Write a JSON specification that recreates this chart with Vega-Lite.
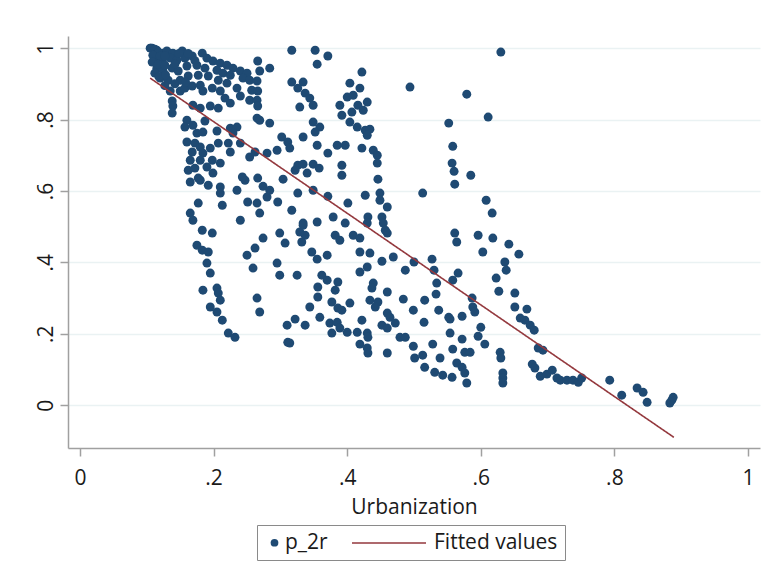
{
  "$schema": "https://vega.github.io/schema/vega-lite/v6.json",
  "width": 692,
  "height": 412,
  "autosize": {"type": "none"},
  "padding": {"left": 68, "top": 36, "right": 4, "bottom": 126},
  "background": "#ffffff",
  "config": {
    "view": {"stroke": null},
    "axis": {
      "domainColor": "#a0a0a0",
      "domainWidth": 1.5,
      "tickColor": "#a0a0a0",
      "tickWidth": 1.5,
      "tickSize": 8,
      "labelFont": "Open Sans",
      "labelFontSize": 21,
      "labelColor": "#1a1a1a",
      "titleFont": "Open Sans",
      "titleFontSize": 21,
      "titleFontWeight": "normal",
      "titleColor": "#1a1a1a"
    }
  },
  "datasets": {
    "obs": [
      {"urbanization": 0.105, "p_2r": 1.0}, {"urbanization": 0.115, "p_2r": 0.994}, {"urbanization": 0.123, "p_2r": 0.986},
      {"urbanization": 0.13, "p_2r": 0.992}, {"urbanization": 0.139, "p_2r": 0.986}, {"urbanization": 0.153, "p_2r": 0.992},
      {"urbanization": 0.112, "p_2r": 0.972}, {"urbanization": 0.123, "p_2r": 0.966}, {"urbanization": 0.135, "p_2r": 0.972},
      {"urbanization": 0.145, "p_2r": 0.966}, {"urbanization": 0.157, "p_2r": 0.972}, {"urbanization": 0.168, "p_2r": 0.978},
      {"urbanization": 0.183, "p_2r": 0.986}, {"urbanization": 0.19, "p_2r": 0.972}, {"urbanization": 0.199, "p_2r": 0.964},
      {"urbanization": 0.21, "p_2r": 0.958}, {"urbanization": 0.22, "p_2r": 0.952}, {"urbanization": 0.229, "p_2r": 0.944},
      {"urbanization": 0.24, "p_2r": 0.936}, {"urbanization": 0.25, "p_2r": 0.93}, {"urbanization": 0.266, "p_2r": 0.964},
      {"urbanization": 0.269, "p_2r": 0.936}, {"urbanization": 0.115, "p_2r": 0.944}, {"urbanization": 0.124, "p_2r": 0.938},
      {"urbanization": 0.138, "p_2r": 0.944}, {"urbanization": 0.147, "p_2r": 0.936}, {"urbanization": 0.16, "p_2r": 0.95},
      {"urbanization": 0.175, "p_2r": 0.952}, {"urbanization": 0.187, "p_2r": 0.944}, {"urbanization": 0.205, "p_2r": 0.938},
      {"urbanization": 0.214, "p_2r": 0.93}, {"urbanization": 0.225, "p_2r": 0.924}, {"urbanization": 0.244, "p_2r": 0.916},
      {"urbanization": 0.254, "p_2r": 0.91}, {"urbanization": 0.265, "p_2r": 0.908}, {"urbanization": 0.12, "p_2r": 0.916},
      {"urbanization": 0.132, "p_2r": 0.91}, {"urbanization": 0.15, "p_2r": 0.91}, {"urbanization": 0.162, "p_2r": 0.922},
      {"urbanization": 0.177, "p_2r": 0.924}, {"urbanization": 0.192, "p_2r": 0.922}, {"urbanization": 0.207, "p_2r": 0.91},
      {"urbanization": 0.22, "p_2r": 0.902}, {"urbanization": 0.235, "p_2r": 0.888}, {"urbanization": 0.257, "p_2r": 0.882},
      {"urbanization": 0.266, "p_2r": 0.88}, {"urbanization": 0.135, "p_2r": 0.88}, {"urbanization": 0.15, "p_2r": 0.88},
      {"urbanization": 0.138, "p_2r": 0.852}, {"urbanization": 0.139, "p_2r": 0.838}, {"urbanization": 0.138, "p_2r": 0.818},
      {"urbanization": 0.157, "p_2r": 0.888}, {"urbanization": 0.168, "p_2r": 0.894}, {"urbanization": 0.18, "p_2r": 0.896},
      {"urbanization": 0.184, "p_2r": 0.88}, {"urbanization": 0.198, "p_2r": 0.888}, {"urbanization": 0.21, "p_2r": 0.88},
      {"urbanization": 0.217, "p_2r": 0.86}, {"urbanization": 0.225, "p_2r": 0.846}, {"urbanization": 0.24, "p_2r": 0.866},
      {"urbanization": 0.254, "p_2r": 0.854}, {"urbanization": 0.265, "p_2r": 0.854}, {"urbanization": 0.266, "p_2r": 0.838},
      {"urbanization": 0.169, "p_2r": 0.84}, {"urbanization": 0.18, "p_2r": 0.832}, {"urbanization": 0.195, "p_2r": 0.838},
      {"urbanization": 0.207, "p_2r": 0.832}, {"urbanization": 0.106, "p_2r": 1.0}, {"urbanization": 0.108, "p_2r": 1.0},
      {"urbanization": 0.112, "p_2r": 0.997}, {"urbanization": 0.117, "p_2r": 0.989}, {"urbanization": 0.109, "p_2r": 0.98},
      {"urbanization": 0.12, "p_2r": 0.978}, {"urbanization": 0.127, "p_2r": 0.978}, {"urbanization": 0.108, "p_2r": 0.961},
      {"urbanization": 0.117, "p_2r": 0.955}, {"urbanization": 0.127, "p_2r": 0.952}, {"urbanization": 0.112, "p_2r": 0.93},
      {"urbanization": 0.118, "p_2r": 0.92}, {"urbanization": 0.128, "p_2r": 0.925}, {"urbanization": 0.142, "p_2r": 0.955},
      {"urbanization": 0.148, "p_2r": 0.985}, {"urbanization": 0.162, "p_2r": 0.985}, {"urbanization": 0.172, "p_2r": 0.965},
      {"urbanization": 0.142, "p_2r": 0.9}, {"urbanization": 0.158, "p_2r": 0.905}, {"urbanization": 0.127, "p_2r": 0.895},
      {"urbanization": 0.16, "p_2r": 0.798}, {"urbanization": 0.169, "p_2r": 0.784}, {"urbanization": 0.157, "p_2r": 0.779},
      {"urbanization": 0.175, "p_2r": 0.762}, {"urbanization": 0.184, "p_2r": 0.765}, {"urbanization": 0.16, "p_2r": 0.737},
      {"urbanization": 0.172, "p_2r": 0.734}, {"urbanization": 0.18, "p_2r": 0.723}, {"urbanization": 0.168, "p_2r": 0.709},
      {"urbanization": 0.184, "p_2r": 0.706}, {"urbanization": 0.195, "p_2r": 0.72}, {"urbanization": 0.207, "p_2r": 0.734},
      {"urbanization": 0.165, "p_2r": 0.686}, {"urbanization": 0.18, "p_2r": 0.686}, {"urbanization": 0.198, "p_2r": 0.686},
      {"urbanization": 0.21, "p_2r": 0.678}, {"urbanization": 0.162, "p_2r": 0.658}, {"urbanization": 0.172, "p_2r": 0.664},
      {"urbanization": 0.19, "p_2r": 0.667}, {"urbanization": 0.199, "p_2r": 0.65}, {"urbanization": 0.165, "p_2r": 0.625},
      {"urbanization": 0.18, "p_2r": 0.63}, {"urbanization": 0.192, "p_2r": 0.616}, {"urbanization": 0.21, "p_2r": 0.611},
      {"urbanization": 0.235, "p_2r": 0.602}, {"urbanization": 0.247, "p_2r": 0.63}, {"urbanization": 0.225, "p_2r": 0.709},
      {"urbanization": 0.254, "p_2r": 0.695}, {"urbanization": 0.225, "p_2r": 0.776}, {"urbanization": 0.235, "p_2r": 0.779},
      {"urbanization": 0.229, "p_2r": 0.762}, {"urbanization": 0.222, "p_2r": 0.734}, {"urbanization": 0.24, "p_2r": 0.734},
      {"urbanization": 0.262, "p_2r": 0.709}, {"urbanization": 0.28, "p_2r": 0.706}, {"urbanization": 0.265, "p_2r": 0.804},
      {"urbanization": 0.269, "p_2r": 0.798}, {"urbanization": 0.187, "p_2r": 0.796}, {"urbanization": 0.205, "p_2r": 0.768},
      {"urbanization": 0.177, "p_2r": 0.566}, {"urbanization": 0.165, "p_2r": 0.538}, {"urbanization": 0.169, "p_2r": 0.518},
      {"urbanization": 0.183, "p_2r": 0.49}, {"urbanization": 0.198, "p_2r": 0.482}, {"urbanization": 0.213, "p_2r": 0.56},
      {"urbanization": 0.24, "p_2r": 0.518}, {"urbanization": 0.265, "p_2r": 0.566}, {"urbanization": 0.269, "p_2r": 0.538},
      {"urbanization": 0.28, "p_2r": 0.583}, {"urbanization": 0.21, "p_2r": 0.594}, {"urbanization": 0.266, "p_2r": 0.636},
      {"urbanization": 0.274, "p_2r": 0.613}, {"urbanization": 0.243, "p_2r": 0.639}, {"urbanization": 0.177, "p_2r": 0.636},
      {"urbanization": 0.251, "p_2r": 0.569}, {"urbanization": 0.175, "p_2r": 0.448}, {"urbanization": 0.183, "p_2r": 0.434},
      {"urbanization": 0.192, "p_2r": 0.429}, {"urbanization": 0.19, "p_2r": 0.398}, {"urbanization": 0.195, "p_2r": 0.37},
      {"urbanization": 0.25, "p_2r": 0.42}, {"urbanization": 0.262, "p_2r": 0.44}, {"urbanization": 0.259, "p_2r": 0.384},
      {"urbanization": 0.184, "p_2r": 0.322}, {"urbanization": 0.205, "p_2r": 0.328}, {"urbanization": 0.207, "p_2r": 0.314},
      {"urbanization": 0.21, "p_2r": 0.294}, {"urbanization": 0.195, "p_2r": 0.275}, {"urbanization": 0.205, "p_2r": 0.261},
      {"urbanization": 0.213, "p_2r": 0.238}, {"urbanization": 0.222, "p_2r": 0.202}, {"urbanization": 0.232, "p_2r": 0.19},
      {"urbanization": 0.265, "p_2r": 0.3}, {"urbanization": 0.269, "p_2r": 0.261},
      {"urbanization": 0.317, "p_2r": 0.994}, {"urbanization": 0.352, "p_2r": 0.994}, {"urbanization": 0.371, "p_2r": 0.978},
      {"urbanization": 0.355, "p_2r": 0.955}, {"urbanization": 0.422, "p_2r": 0.933}, {"urbanization": 0.494, "p_2r": 0.891},
      {"urbanization": 0.284, "p_2r": 0.944}, {"urbanization": 0.317, "p_2r": 0.905}, {"urbanization": 0.334, "p_2r": 0.905},
      {"urbanization": 0.326, "p_2r": 0.888}, {"urbanization": 0.337, "p_2r": 0.874}, {"urbanization": 0.344, "p_2r": 0.86},
      {"urbanization": 0.329, "p_2r": 0.835}, {"urbanization": 0.349, "p_2r": 0.84}, {"urbanization": 0.404, "p_2r": 0.902},
      {"urbanization": 0.419, "p_2r": 0.888}, {"urbanization": 0.4, "p_2r": 0.863}, {"urbanization": 0.409, "p_2r": 0.868},
      {"urbanization": 0.389, "p_2r": 0.84}, {"urbanization": 0.392, "p_2r": 0.812}, {"urbanization": 0.407, "p_2r": 0.821},
      {"urbanization": 0.416, "p_2r": 0.84}, {"urbanization": 0.43, "p_2r": 0.849}, {"urbanization": 0.424, "p_2r": 0.826},
      {"urbanization": 0.404, "p_2r": 0.793}, {"urbanization": 0.415, "p_2r": 0.779}, {"urbanization": 0.427, "p_2r": 0.77},
      {"urbanization": 0.434, "p_2r": 0.773}, {"urbanization": 0.43, "p_2r": 0.756}, {"urbanization": 0.349, "p_2r": 0.793},
      {"urbanization": 0.359, "p_2r": 0.779}, {"urbanization": 0.352, "p_2r": 0.765}, {"urbanization": 0.284, "p_2r": 0.79},
      {"urbanization": 0.302, "p_2r": 0.751}, {"urbanization": 0.311, "p_2r": 0.737}, {"urbanization": 0.314, "p_2r": 0.72},
      {"urbanization": 0.295, "p_2r": 0.714}, {"urbanization": 0.334, "p_2r": 0.751}, {"urbanization": 0.355, "p_2r": 0.728},
      {"urbanization": 0.371, "p_2r": 0.706}, {"urbanization": 0.385, "p_2r": 0.728}, {"urbanization": 0.397, "p_2r": 0.728},
      {"urbanization": 0.422, "p_2r": 0.72}, {"urbanization": 0.439, "p_2r": 0.714}, {"urbanization": 0.445, "p_2r": 0.7},
      {"urbanization": 0.445, "p_2r": 0.678}, {"urbanization": 0.392, "p_2r": 0.672}, {"urbanization": 0.392, "p_2r": 0.644},
      {"urbanization": 0.326, "p_2r": 0.672}, {"urbanization": 0.334, "p_2r": 0.675}, {"urbanization": 0.349, "p_2r": 0.675},
      {"urbanization": 0.358, "p_2r": 0.664}, {"urbanization": 0.322, "p_2r": 0.658}, {"urbanization": 0.34, "p_2r": 0.65},
      {"urbanization": 0.304, "p_2r": 0.633}, {"urbanization": 0.446, "p_2r": 0.633}, {"urbanization": 0.284, "p_2r": 0.602},
      {"urbanization": 0.296, "p_2r": 0.569}, {"urbanization": 0.326, "p_2r": 0.594}, {"urbanization": 0.349, "p_2r": 0.602},
      {"urbanization": 0.371, "p_2r": 0.585}, {"urbanization": 0.401, "p_2r": 0.566}, {"urbanization": 0.427, "p_2r": 0.588},
      {"urbanization": 0.449, "p_2r": 0.594}, {"urbanization": 0.449, "p_2r": 0.574}, {"urbanization": 0.46, "p_2r": 0.555},
      {"urbanization": 0.317, "p_2r": 0.546}, {"urbanization": 0.379, "p_2r": 0.527}, {"urbanization": 0.355, "p_2r": 0.513},
      {"urbanization": 0.334, "p_2r": 0.51}, {"urbanization": 0.397, "p_2r": 0.51}, {"urbanization": 0.431, "p_2r": 0.527},
      {"urbanization": 0.452, "p_2r": 0.527},
      {"urbanization": 0.63, "p_2r": 0.989}, {"urbanization": 0.579, "p_2r": 0.871}, {"urbanization": 0.611, "p_2r": 0.807},
      {"urbanization": 0.552, "p_2r": 0.79}, {"urbanization": 0.558, "p_2r": 0.725}, {"urbanization": 0.557, "p_2r": 0.678},
      {"urbanization": 0.56, "p_2r": 0.655}, {"urbanization": 0.561, "p_2r": 0.619}, {"urbanization": 0.585, "p_2r": 0.644},
      {"urbanization": 0.513, "p_2r": 0.594}, {"urbanization": 0.608, "p_2r": 0.574}, {"urbanization": 0.617, "p_2r": 0.538},
      {"urbanization": 0.274, "p_2r": 0.468}, {"urbanization": 0.299, "p_2r": 0.482}, {"urbanization": 0.307, "p_2r": 0.454},
      {"urbanization": 0.329, "p_2r": 0.485}, {"urbanization": 0.332, "p_2r": 0.457}, {"urbanization": 0.334, "p_2r": 0.504},
      {"urbanization": 0.337, "p_2r": 0.476}, {"urbanization": 0.382, "p_2r": 0.476}, {"urbanization": 0.389, "p_2r": 0.462},
      {"urbanization": 0.409, "p_2r": 0.476}, {"urbanization": 0.419, "p_2r": 0.468}, {"urbanization": 0.43, "p_2r": 0.51},
      {"urbanization": 0.454, "p_2r": 0.51}, {"urbanization": 0.46, "p_2r": 0.482}, {"urbanization": 0.457, "p_2r": 0.49},
      {"urbanization": 0.347, "p_2r": 0.429}, {"urbanization": 0.355, "p_2r": 0.409}, {"urbanization": 0.37, "p_2r": 0.42},
      {"urbanization": 0.419, "p_2r": 0.429}, {"urbanization": 0.434, "p_2r": 0.426}, {"urbanization": 0.43, "p_2r": 0.387},
      {"urbanization": 0.419, "p_2r": 0.373}, {"urbanization": 0.452, "p_2r": 0.403}, {"urbanization": 0.469, "p_2r": 0.415},
      {"urbanization": 0.487, "p_2r": 0.378}, {"urbanization": 0.295, "p_2r": 0.398}, {"urbanization": 0.299, "p_2r": 0.364},
      {"urbanization": 0.325, "p_2r": 0.364}, {"urbanization": 0.362, "p_2r": 0.364}, {"urbanization": 0.37, "p_2r": 0.35},
      {"urbanization": 0.386, "p_2r": 0.345}, {"urbanization": 0.356, "p_2r": 0.331}, {"urbanization": 0.382, "p_2r": 0.322},
      {"urbanization": 0.439, "p_2r": 0.342}, {"urbanization": 0.437, "p_2r": 0.328}, {"urbanization": 0.46, "p_2r": 0.317},
      {"urbanization": 0.356, "p_2r": 0.303}, {"urbanization": 0.377, "p_2r": 0.289}, {"urbanization": 0.404, "p_2r": 0.286},
      {"urbanization": 0.386, "p_2r": 0.272}, {"urbanization": 0.392, "p_2r": 0.266}, {"urbanization": 0.434, "p_2r": 0.294},
      {"urbanization": 0.446, "p_2r": 0.289}, {"urbanization": 0.442, "p_2r": 0.275}, {"urbanization": 0.46, "p_2r": 0.258},
      {"urbanization": 0.464, "p_2r": 0.246}, {"urbanization": 0.472, "p_2r": 0.23}, {"urbanization": 0.484, "p_2r": 0.297},
      {"urbanization": 0.344, "p_2r": 0.275}, {"urbanization": 0.359, "p_2r": 0.246}, {"urbanization": 0.31, "p_2r": 0.224},
      {"urbanization": 0.322, "p_2r": 0.241}, {"urbanization": 0.337, "p_2r": 0.224}, {"urbanization": 0.374, "p_2r": 0.23},
      {"urbanization": 0.385, "p_2r": 0.232}, {"urbanization": 0.389, "p_2r": 0.216}, {"urbanization": 0.377, "p_2r": 0.202},
      {"urbanization": 0.4, "p_2r": 0.204}, {"urbanization": 0.415, "p_2r": 0.204}, {"urbanization": 0.422, "p_2r": 0.238},
      {"urbanization": 0.43, "p_2r": 0.202}, {"urbanization": 0.431, "p_2r": 0.19}, {"urbanization": 0.452, "p_2r": 0.224},
      {"urbanization": 0.46, "p_2r": 0.216}, {"urbanization": 0.479, "p_2r": 0.19}, {"urbanization": 0.487, "p_2r": 0.19},
      {"urbanization": 0.419, "p_2r": 0.171}, {"urbanization": 0.43, "p_2r": 0.16}, {"urbanization": 0.431, "p_2r": 0.146},
      {"urbanization": 0.46, "p_2r": 0.146}, {"urbanization": 0.311, "p_2r": 0.176}, {"urbanization": 0.314, "p_2r": 0.174},
      {"urbanization": 0.561, "p_2r": 0.482}, {"urbanization": 0.564, "p_2r": 0.457}, {"urbanization": 0.596, "p_2r": 0.476},
      {"urbanization": 0.618, "p_2r": 0.468}, {"urbanization": 0.603, "p_2r": 0.429}, {"urbanization": 0.642, "p_2r": 0.451},
      {"urbanization": 0.657, "p_2r": 0.423}, {"urbanization": 0.5, "p_2r": 0.401}, {"urbanization": 0.527, "p_2r": 0.409},
      {"urbanization": 0.53, "p_2r": 0.378}, {"urbanization": 0.566, "p_2r": 0.37}, {"urbanization": 0.558, "p_2r": 0.35},
      {"urbanization": 0.534, "p_2r": 0.342}, {"urbanization": 0.533, "p_2r": 0.311}, {"urbanization": 0.516, "p_2r": 0.294},
      {"urbanization": 0.499, "p_2r": 0.266}, {"urbanization": 0.515, "p_2r": 0.232}, {"urbanization": 0.537, "p_2r": 0.266},
      {"urbanization": 0.552, "p_2r": 0.246}, {"urbanization": 0.554, "p_2r": 0.241}, {"urbanization": 0.572, "p_2r": 0.249},
      {"urbanization": 0.587, "p_2r": 0.3}, {"urbanization": 0.588, "p_2r": 0.275}, {"urbanization": 0.591, "p_2r": 0.261},
      {"urbanization": 0.6, "p_2r": 0.218}, {"urbanization": 0.596, "p_2r": 0.193}, {"urbanization": 0.606, "p_2r": 0.171},
      {"urbanization": 0.554, "p_2r": 0.202}, {"urbanization": 0.572, "p_2r": 0.185}, {"urbanization": 0.528, "p_2r": 0.171},
      {"urbanization": 0.499, "p_2r": 0.165}, {"urbanization": 0.513, "p_2r": 0.14}, {"urbanization": 0.501, "p_2r": 0.132},
      {"urbanization": 0.539, "p_2r": 0.132}, {"urbanization": 0.558, "p_2r": 0.157}, {"urbanization": 0.576, "p_2r": 0.148},
      {"urbanization": 0.584, "p_2r": 0.148}, {"urbanization": 0.564, "p_2r": 0.118}, {"urbanization": 0.572, "p_2r": 0.106},
      {"urbanization": 0.576, "p_2r": 0.09}, {"urbanization": 0.579, "p_2r": 0.062}, {"urbanization": 0.516, "p_2r": 0.106},
      {"urbanization": 0.531, "p_2r": 0.092}, {"urbanization": 0.543, "p_2r": 0.084}, {"urbanization": 0.557, "p_2r": 0.078},
      {"urbanization": 0.629, "p_2r": 0.148}, {"urbanization": 0.63, "p_2r": 0.132}, {"urbanization": 0.633, "p_2r": 0.09},
      {"urbanization": 0.633, "p_2r": 0.076}, {"urbanization": 0.633, "p_2r": 0.062}, {"urbanization": 0.623, "p_2r": 0.356},
      {"urbanization": 0.627, "p_2r": 0.319}, {"urbanization": 0.636, "p_2r": 0.401}, {"urbanization": 0.638, "p_2r": 0.378},
      {"urbanization": 0.651, "p_2r": 0.314}, {"urbanization": 0.651, "p_2r": 0.275}, {"urbanization": 0.669, "p_2r": 0.269},
      {"urbanization": 0.659, "p_2r": 0.244}, {"urbanization": 0.666, "p_2r": 0.238}, {"urbanization": 0.674, "p_2r": 0.224},
      {"urbanization": 0.68, "p_2r": 0.21}, {"urbanization": 0.686, "p_2r": 0.16}, {"urbanization": 0.693, "p_2r": 0.154},
      {"urbanization": 0.677, "p_2r": 0.115}, {"urbanization": 0.681, "p_2r": 0.104}, {"urbanization": 0.689, "p_2r": 0.081},
      {"urbanization": 0.699, "p_2r": 0.087}, {"urbanization": 0.707, "p_2r": 0.098}, {"urbanization": 0.714, "p_2r": 0.076},
      {"urbanization": 0.719, "p_2r": 0.07}, {"urbanization": 0.729, "p_2r": 0.07}, {"urbanization": 0.738, "p_2r": 0.07},
      {"urbanization": 0.746, "p_2r": 0.064}, {"urbanization": 0.751, "p_2r": 0.076}, {"urbanization": 0.793, "p_2r": 0.07},
      {"urbanization": 0.811, "p_2r": 0.028}, {"urbanization": 0.834, "p_2r": 0.048}, {"urbanization": 0.843, "p_2r": 0.036},
      {"urbanization": 0.849, "p_2r": 0.008}, {"urbanization": 0.883, "p_2r": 0.006}, {"urbanization": 0.886, "p_2r": 0.014},
      {"urbanization": 0.888, "p_2r": 0.022}
    ],
    "fit": [
      {"urbanization": 0.105, "fitted": 0.916},
      {"urbanization": 0.889, "fitted": -0.09}
    ]
  },
  "layer": [
    {
      "data": {"name": "obs"},
      "mark": {"type": "circle", "size": 80, "opacity": 1},
      "encoding": {
        "x": {
          "field": "urbanization",
          "type": "quantitative",
          "scale": {"domain": [-0.018, 1.018], "nice": false, "zero": false},
          "axis": {
            "title": "Urbanization",
            "values": [0, 0.2, 0.4, 0.6, 0.8, 1],
            "labelExpr": "datum.value == 0 ? '0' : datum.value == 1 ? '1' : replace(format(datum.value, '.1f'), '0.', '.')",
            "grid": false,
            "labelPadding": 11,
            "titlePadding": 8
          }
        },
        "y": {
          "field": "p_2r",
          "type": "quantitative",
          "scale": {"domain": [-0.12, 1.034], "nice": false, "zero": false},
          "axis": {
            "title": null,
            "values": [0, 0.2, 0.4, 0.6, 0.8, 1],
            "labelExpr": "datum.value == 0 ? '0' : datum.value == 1 ? '1' : replace(format(datum.value, '.1f'), '0.', '.')",
            "labelAngle": 270,
            "labelAlign": "center",
            "labelBaseline": "alphabetic",
            "labelPadding": 8,
            "grid": true,
            "gridColor": "#eaf2f3",
            "gridWidth": 1.5
          }
        },
        "color": {
          "datum": "p_2r",
          "type": "nominal",
          "scale": {"domain": ["p_2r", "Fitted values"], "range": ["#1f4a73", "transparent"]},
          "legend": {
            "orient": "none",
            "legendX": 189,
            "legendY": 489,
            "direction": "horizontal",
            "title": null,
            "strokeColor": "#8a8a8a",
            "padding": 7,
            "labelFont": "Open Sans",
            "labelFontSize": 21,
            "labelColor": "#1a1a1a",
            "labelOffset": 0,
            "columnPadding": 85,
            "symbolType": "circle",
            "symbolSize": 60,
            "symbolOpacity": 1,
            "labelExpr": "datum.label == 'Fitted values' ? 'Fitted values\u00a0' : datum.label"
          }
        }
      }
    },
    {
      "data": {"name": "fit"},
      "mark": {"type": "line", "strokeWidth": 1.6, "color": "#94393e"},
      "encoding": {
        "x": {"field": "urbanization", "type": "quantitative"},
        "y": {"field": "fitted", "type": "quantitative"},
        "strokeDash": {
          "datum": "Fitted values",
          "type": "nominal",
          "scale": {"domain": ["Fitted values"], "range": [[1, 0]]},
          "legend": {
            "orient": "none",
            "legendX": 283,
            "legendY": 497,
            "title": null,
            "padding": 0,
            "clipHeight": 20,
            "labelExpr": "''",
            "symbolType": "stroke",
            "symbolSize": 5476,
            "symbolStrokeColor": "#94393e",
            "symbolStrokeWidth": 1.6
          }
        }
      }
    }
  ]
}
